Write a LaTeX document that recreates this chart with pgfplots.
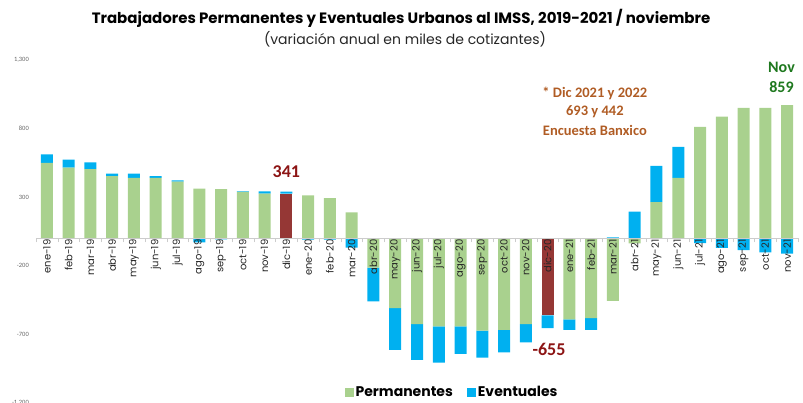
\documentclass[border=0pt]{standalone}
\usepackage{pgfplots}
\pgfplotsset{compat=1.18}
\usepackage{pgfplotstable}
\usepackage{fontspec}
\setmainfont{Poppins}
\newfontfamily\carlito{Carlito}
\newfontfamily\gothic{Poppins}

\definecolor{perm}{RGB}{169,209,142}
\definecolor{even}{RGB}{0,176,240}
\definecolor{dic}{RGB}{149,55,53}
\definecolor{maroon}{RGB}{140,20,20}
\definecolor{brownt}{RGB}{176,92,36}
\definecolor{greent}{RGB}{30,120,30}

\pgfplotstableread{
x perm red ev
0 550 0 63
1 516 0 58
2 504 0 49
3 453 0 19
4 440 0 32
5 440 0 13
6 414 0 9
7 363 0 -29
8 358 0 -8
9 338 0 5
10 326 0 17
11 0 326 15
12 314 0 -10
13 294 0 -10
14 190 0 -68
15 -214 0 -246
16 -509 0 -304
17 -625 0 -260
18 -642 0 -263
19 -642 0 -200
20 -672 0 -197
21 -667 0 -164
22 -625 0 -134
23 0 -562 -93
24 -591 0 -76
25 -582 0 -85
26 -455 0 7
27 -37 0 194
28 265 0 263
29 440 0 227
30 812 0 -34
31 888 0 -69
32 951 0 -86
33 951 0 -103
34 971 0 -112
}\data

\pgfplotsset{base/.style={
  scale only axis, width=762pt, height=343pt,
  xmin=-0.5, xmax=34.5, ymin=-1200, ymax=1300,
  ybar stacked, bar width=12pt,
  at={(36pt,-1pt)}, anchor=south west}}

\begin{document}
\begin{tikzpicture}
% positive parts
\begin{axis}[base, hide axis,
  legend style={at={(0.546,0.032)}, anchor=center, draw=none, fill=none,
    legend columns=2, font=\gothic\bfseries\fontsize{14}{16}\selectfont,
    /tikz/every even column/.append style={column sep=12pt}},
  legend image code/.code={\fill[#1] (0pt,-4.5pt) rectangle (9pt,4.5pt);}]
\addplot[fill=perm, draw=none] table[x=x, y expr={max(\thisrow{perm},0)}] {\data};
\addplot[fill=dic, draw=none, forget plot] table[x=x, y expr={max(\thisrow{red},0)}] {\data};
\addplot[fill=even, draw=none] table[x=x, y expr={max(\thisrow{ev},0)}] {\data};
\legend{Permanentes, Eventuales}
\end{axis}
% negative parts + axes
\begin{axis}[base, axis on top,
  axis x line=middle, axis y line=left, axis line style={-},
  y axis line style={draw=none},
  x axis line style={draw=black!20},
  xtick={0,...,34},
  xticklabels={ene-19,feb-19,mar-19,abr-19,may-19,jun-19,jul-19,ago-19,sep-19,oct-19,nov-19,dic-19,
    ene-20,feb-20,mar-20,abr-20,may-20,jun-20,jul-20,ago-20,sep-20,oct-20,nov-20,dic-20,
    ene-21,feb-21,mar-21,abr-21,may-21,jun-21,jul-21,ago-21,sep-21,oct-21,nov-21},
  xticklabel style={rotate=90, anchor=east, inner sep=1pt, font=\gothic\fontsize{10}{12}\selectfont, text=black!85},
  major tick length=0pt,
  minor xtick={-0.5,0.5,...,34.5},
  minor tick length=4pt, tick align=outside,
  minor tick style={black!20},
  ytick={-1200,-700,-200,300,800,1300},
  yticklabel style={anchor=east, inner sep=0pt, xshift=-7pt, font=\carlito\fontsize{6.5}{7}\selectfont, text=black!60},
  /pgf/number format/.cd, 1000 sep={,}, assume math mode=true]
\addplot[fill=perm, draw=none, forget plot] table[x=x, y expr={min(\thisrow{perm},0)}] {\data};
\addplot[fill=dic, draw=none, forget plot] table[x=x, y expr={min(\thisrow{red},0)}] {\data};
\addplot[fill=even, draw=none, forget plot] table[x=x, y expr={min(\thisrow{ev},0)}] {\data};
\node[font=\carlito\bfseries\fontsize{18}{20}\selectfont, text=maroon] at (axis cs:11,484) {341};
\node[font=\carlito\bfseries\fontsize{18}{20}\selectfont, text=maroon] at (axis cs:23.06,-813) {-655};
\node[font=\carlito\bfseries\fontsize{14.5}{16}\selectfont, text=brownt] at (axis cs:25.17,1058) {* Dic 2021 y 2022};
\node[font=\carlito\bfseries\fontsize{14.5}{16}\selectfont, text=brownt] at (axis cs:25.17,924) {693 y 442};
\node[font=\carlito\bfseries\fontsize{14.5}{16}\selectfont, text=brownt] at (axis cs:25.17,790) {Encuesta Banxico};
\node[font=\carlito\bfseries\fontsize{16}{18}\selectfont, text=greent] at (axis cs:33.74,1246) {Nov};
\node[font=\carlito\bfseries\fontsize{16}{18}\selectfont, text=greent] at (axis cs:33.74,1100) {859};
\end{axis}
\node[font=\gothic\bfseries\fontsize{15}{17}\selectfont] at (401pt,384pt) {Trabajadores Permanentes y Eventuales Urbanos al IMSS, 2019-2021 / noviembre};
\node[font=\gothic\fontsize{14}{16}\selectfont, text=black!85] at (405pt,363pt) {(variación anual en miles de cotizantes)};
\pgfresetboundingbox
\path[use as bounding box] (0,0) rectangle (803pt,402pt);
\end{tikzpicture}
\end{document}
